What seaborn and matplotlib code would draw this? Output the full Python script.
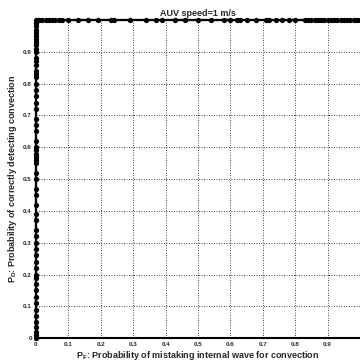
import numpy as np
import pandas as pd
import matplotlib
matplotlib.use("Agg")
import matplotlib.pyplot as plt
import seaborn as sns

# ROC curve: vertical run at PF=0, then horizontal run at PD=1
pd_left = [0, 0.01, 0.02, 0.035, 0.05, 0.07, 0.09, 0.11, 0.13, 0.15, 0.17, 0.19, 0.2,
           0.22, 0.24, 0.26, 0.28, 0.3, 0.32, 0.34, 0.37, 0.39, 0.42, 0.45, 0.47, 0.5,
           0.52, 0.55, 0.56, 0.57, 0.58, 0.59, 0.6, 0.62, 0.65, 0.67, 0.69, 0.72, 0.74,
           0.76, 0.78, 0.8, 0.82, 0.83, 0.84, 0.86, 0.87, 0.88, 0.9, 0.91, 0.92, 0.93,
           0.94, 0.95, 0.96, 0.97, 0.98, 0.99, 1.0]
pf_top = [0.005, 0.01, 0.02, 0.03, 0.04, 0.05, 0.06, 0.07, 0.08, 0.1, 0.13, 0.16, 0.19,
          0.23, 0.24, 0.29, 0.34, 0.37, 0.39, 0.43, 0.46, 0.5, 0.54, 0.58, 0.6, 0.62,
          0.63, 0.65, 0.68, 0.71, 0.72, 0.74, 0.76, 0.78, 0.8, 0.83, 0.84, 0.85, 0.86,
          0.87, 0.88, 0.89, 0.9, 0.91, 0.92, 0.93, 0.94, 0.95, 0.96, 0.97, 0.98, 0.99, 1.0]
tick_vals = [0, 0.1, 0.2, 0.3, 0.4, 0.5, 0.6, 0.7, 0.8, 0.9]
tick_labels = ["0", "0.1", "0.2", "0.3", "0.4", "0.5", "0.6", "0.7", "0.8", "0.9"]

roc = pd.DataFrame({
    "PF": [0.0] * len(pd_left) + pf_top,
    "PD": pd_left + [1.0] * len(pf_top),
})

sns.set_theme(style="white")
plt.rcParams["font.family"] = ["Liberation Sans", "DejaVu Sans"]

fig = plt.figure(figsize=(3.6, 3.64), dpi=100)
ax = fig.add_axes([0.1, 0.071, 0.9, 0.874])

sns.lineplot(data=roc, x="PF", y="PD", sort=False, estimator=None, ax=ax,
             color="black", linewidth=1.6, marker="o", markersize=3.8,
             markeredgewidth=0, clip_on=False, zorder=5)

ax.set_xlim(0, 1)
ax.set_ylim(0, 1)
ax.set_xticks(tick_vals)
ax.set_xticklabels(tick_labels)
ax.set_yticks(tick_vals)
ax.set_yticklabels(tick_labels)
ax.tick_params(labelsize=4.5, length=0, pad=3)
for lbl in ax.get_xticklabels() + ax.get_yticklabels():
    lbl.set_fontweight("bold")

ax.grid(True, color="black", linestyle=(0, (1, 2)), linewidth=0.6)
for side in ["left", "bottom", "top"]:
    ax.spines[side].set_color("black")
    ax.spines[side].set_linewidth(1.5)
ax.spines["right"].set_visible(False)

ax.set_title("AUV speed=1 m/s", fontsize=6.5, fontweight="bold", pad=3)
ax.set_xlabel(r"$\mathregular{P_F}$: Probability of mistaking internal wave for convection",
              fontsize=6.5, fontweight="bold", labelpad=1)
ax.set_ylabel(r"$\mathregular{P_D}$: Probability of correctly detecting convection",
              fontsize=6.5, fontweight="bold", labelpad=3)

fig.savefig("out.png", dpi=100, facecolor="white")
